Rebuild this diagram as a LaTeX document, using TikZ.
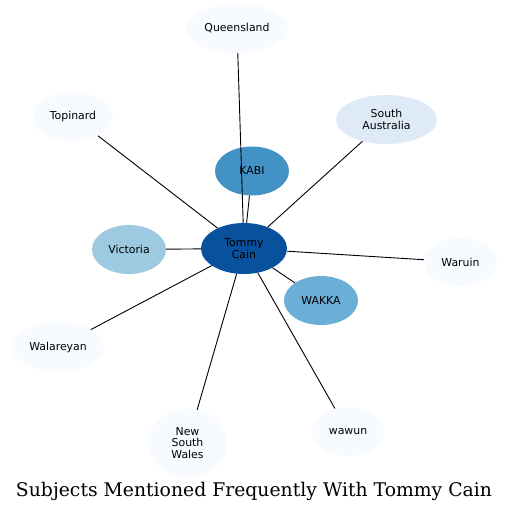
\documentclass[tikz,border=0pt]{standalone}
\usepackage{fontspec}
\usepackage{tikz}
\usetikzlibrary{shapes.geometric}
\newfontfamily\nodefont{DejaVu Sans}
\newfontfamily\titlefont{DejaVu Serif}
\definecolor{cTommy}{HTML}{08519C}
\definecolor{cKabi}{HTML}{4292C6}
\definecolor{cWakka}{HTML}{6BAED6}
\definecolor{cVic}{HTML}{9ECAE1}
\definecolor{cSA}{HTML}{DEEBF7}
\definecolor{cLeaf}{HTML}{F7FBFF}
\tikzset{%
  myedge/.style={-, draw=black, line width=0.9pt},
  mynode/.style={ellipse, inner sep=0pt, align=center, font=\nodefont\fontsize{10.9}{11.6}\selectfont}
}

\begin{document}
\begin{tikzpicture}[x=1pt, y=-1pt]
  \useasboundingbox (0,0) rectangle (509,512);

% hub and coloured nodes
\node [mynode, fill=cTommy, minimum width=86, minimum height=51] (tommy) at (244,248.5) {Tommy\\Cain};
\node [mynode, fill=cKabi, minimum width=74, minimum height=49] (kabi) at (252,171) {KABI};
\node [mynode, fill=cWakka, minimum width=74, minimum height=49] (wakka) at (321,300.5) {WAKKA};
\node [mynode, fill=cVic, minimum width=74, minimum height=49] (victoria) at (129,249.5) {Victoria};
\node [mynode, fill=cSA, minimum width=101, minimum height=49] (southaus) at (386.5,119.5) {South\\Australia};

% leaf nodes
\foreach \name / \x / \y / \w / \h / \txt in {queensland/237/28.5/101/49/{Queensland},
    topinard/73/116.5/80/49/{Topinard}, waruin/460.5/262/73/48/{Waruin},
    walareyan/58/347/92/49/{Walareyan}, nsw/187.5/443/79/68/{New\\South\\Wales},
    wawun/348/431.5/72/49/{wawun}}{
  \node [mynode, fill=cLeaf, minimum width=\w, minimum height=\h] (\name) at (\x,\y) {\txt};
}

% edges
\foreach \leaf in {queensland, kabi, southaus, waruin, wakka, wawun, nsw, walareyan, victoria, topinard}{
  \draw [myedge] (tommy) -- (\leaf);
}

% title
\node [font=\titlefont\fontsize{18.8}{20}\selectfont] (title) at (254,491) {Subjects Mentioned Frequently With Tommy Cain};

\end{tikzpicture}
\end{document}
